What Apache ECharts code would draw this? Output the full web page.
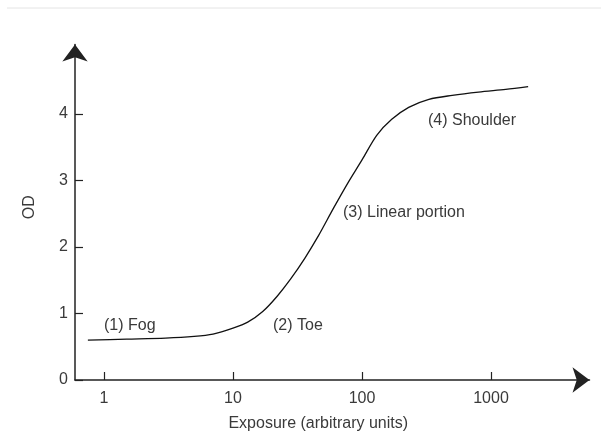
<!DOCTYPE html>
<html>
<head>
<meta charset="utf-8">
<script src="https://cdn.jsdelivr.net/npm/echarts@6/dist/echarts.min.js"></script>
<style>
  html, body { margin: 0; padding: 0; background: #fff; }
  #chart { width: 601px; height: 442px; }
</style>
</head>
<body>
<div id="chart"></div>
<script>
// exposure (arbitrary units) and optical density
const exposure = [0.75, 1.5, 3, 5, 7, 10, 13, 17, 22, 28, 36, 46, 60, 77, 100, 130, 170, 230, 330, 500, 800, 1300, 1940]
const od = [0.60, 0.615, 0.63, 0.655, 0.69, 0.78, 0.87, 1.03, 1.26, 1.52, 1.83, 2.17, 2.58, 2.95, 3.31, 3.68, 3.92, 4.10, 4.22, 4.28, 4.33, 4.37, 4.41]
const xTicks = [1, 10, 100, 1000]
const yTicks = [0, 1, 2, 3, 4]
const regionLabels = ['(1) Fog', '(2) Toe', '(3) Linear portion', '(4) Shoulder']

const font = 'Liberation Sans, Arial, sans-serif'
const textColor = '#3a3a3a'

let mychart = echarts.init(document.getElementById('chart'))

// labels for the four parts of the curve
const labelPos = [
  { left: 104, top: 318 },
  { left: 273, top: 318 },
  { left: 343, top: 205 },
  { left: 428, top: 113 }
]

mychart.setOption({
  animation: false,
  backgroundColor: '#fff',
  grid: {
    left: 75,
    right: 11.5,
    top: 44.5,
    bottom: 62
  },
  xAxis: {
    type: 'log',
    min: 0.596,
    max: 5800,
    name: 'Exposure (arbitrary units)',
    nameLocation: 'middle',
    nameGap: 36,
    nameTextStyle: { color: textColor, fontFamily: font, fontSize: 16, padding: [0, 28, 0, 0] },
    axisLine: {
      lineStyle: { color: '#222', width: 1.5 },
      symbol: ['none', 'arrow'],
      symbolSize: [19, 17]
    },
    axisTick: { show: true, inside: true, length: 8, customValues: xTicks, lineStyle: { color: '#222', width: 1.2 } },
    axisLabel: {
      customValues: xTicks,
      formatter: v => String(Math.round(v)),
      color: textColor,
      fontFamily: font,
      fontSize: 16,
      margin: 11
    },
    splitLine: { show: false },
    minorTick: { show: false }
  },
  yAxis: {
    type: 'value',
    min: 0,
    max: 5.045,
    name: 'OD',
    nameLocation: 'middle',
    nameGap: 37,
    nameTextStyle: { color: textColor, fontFamily: font, fontSize: 16, padding: [0, 0, 0, 10] },
    axisLine: {
      show: true,
      lineStyle: { color: '#222', width: 1.5 },
      symbol: ['none', 'arrow'],
      symbolSize: [19, 17]
    },
    axisTick: { show: true, inside: true, length: 8, customValues: yTicks, lineStyle: { color: '#222', width: 1.2 } },
    axisLabel: { customValues: yTicks, color: textColor, fontFamily: font, fontSize: 16, margin: 7 },
    splitLine: { show: false }
  },
  series: [
    {
      type: 'line',
      data: exposure.map((x, i) => [x, od[i]]),
      showSymbol: false,
      smooth: 0.3,
      lineStyle: { color: '#111', width: 1.3 }
    }
  ],
  graphic: [
    {
      type: 'line',
      shape: { x1: 7, y1: 8, x2: 601, y2: 8 },
      style: { stroke: '#e4e4e4', lineWidth: 1 }
    }
  ].concat(regionLabels.map((t, i) => ({
    type: 'text',
    left: labelPos[i].left,
    top: labelPos[i].top,
    style: { text: t, fill: textColor, font: '16px ' + font }
  })))
})
</script>
</body>
</html>
